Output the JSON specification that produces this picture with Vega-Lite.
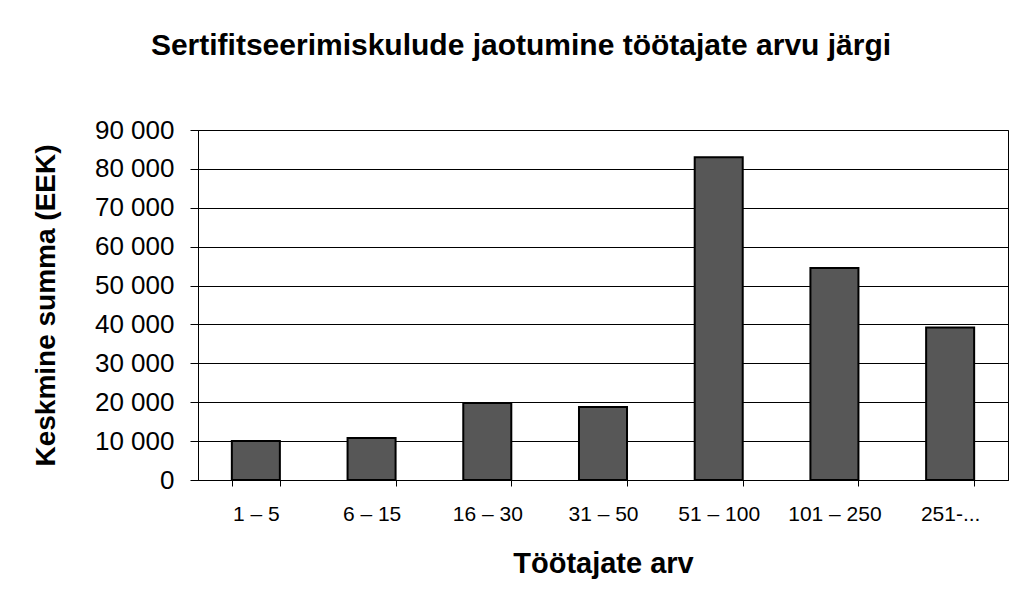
{
  "$schema": "https://vega.github.io/schema/vega-lite/v6.json",
  "autosize": {"type": "none"},
  "width": 810,
  "height": 350,
  "padding": {"left": 198, "top": 130, "right": 11, "bottom": 127},
  "background": "white",
  "config": {
    "font": "Liberation Sans",
    "view": {"stroke": "black", "strokeWidth": 1}
  },
  "title": {
    "text": "Sertifitseerimiskulude jaotumine töötajate arvu järgi",
    "font": "Liberation Sans",
    "fontSize": 30,
    "fontWeight": "bold",
    "color": "black",
    "anchor": "middle",
    "dx": -82,
    "offset": 56
  },
  "data": {
    "values": [
      {"grupp": "1 – 5", "summa": 10000},
      {"grupp": "6 – 15", "summa": 10800},
      {"grupp": "16 – 30", "summa": 19800},
      {"grupp": "31 – 50", "summa": 18800},
      {"grupp": "51 – 100", "summa": 83000},
      {"grupp": "101 – 250", "summa": 54500},
      {"grupp": "251-...", "summa": 39200}
    ]
  },
  "mark": {"type": "bar", "fill": "#575757", "stroke": "black", "strokeWidth": 2},
  "encoding": {
    "x": {
      "field": "grupp",
      "type": "nominal",
      "sort": null,
      "scale": {"paddingInner": 0.585, "paddingOuter": 0.2925},
      "axis": {
        "title": "Töötajate arv",
        "titleFont": "Liberation Sans",
        "titleFontSize": 29,
        "titleFontWeight": "bold",
        "titleColor": "black",
        "titleX": 405,
        "titleY": 92,
        "titleAlign": "center",
        "titleBaseline": "alphabetic",
        "labelAngle": 0,
        "labelFontSize": 21,
        "labelColor": "black",
        "labelPadding": 17,
        "tickBand": "extent",
        "tickSize": 6,
        "tickColor": "black",
        "domainColor": "black",
        "grid": false
      }
    },
    "y": {
      "field": "summa",
      "type": "quantitative",
      "scale": {"domain": [0, 90000], "nice": false},
      "axis": {
        "title": "Keskmine summa (EEK)",
        "titleFont": "Liberation Sans",
        "titleFontSize": 28,
        "titleFontWeight": "bold",
        "titleColor": "black",
        "titleX": -144,
        "titleY": 175,
        "titleAngle": -90,
        "titleAlign": "center",
        "titleBaseline": "alphabetic",
        "values": [0, 10000, 20000, 30000, 40000, 50000, 60000, 70000, 80000, 90000],
        "labelExpr": "replace(format(datum.value, ','), ',', ' ')",
        "labelFontSize": 26,
        "labelColor": "black",
        "labelPadding": 16,
        "tickSize": 8,
        "tickColor": "black",
        "domainColor": "black",
        "grid": true,
        "gridColor": "black",
        "gridOpacity": 1,
        "gridWidth": 1
      }
    }
  }
}
